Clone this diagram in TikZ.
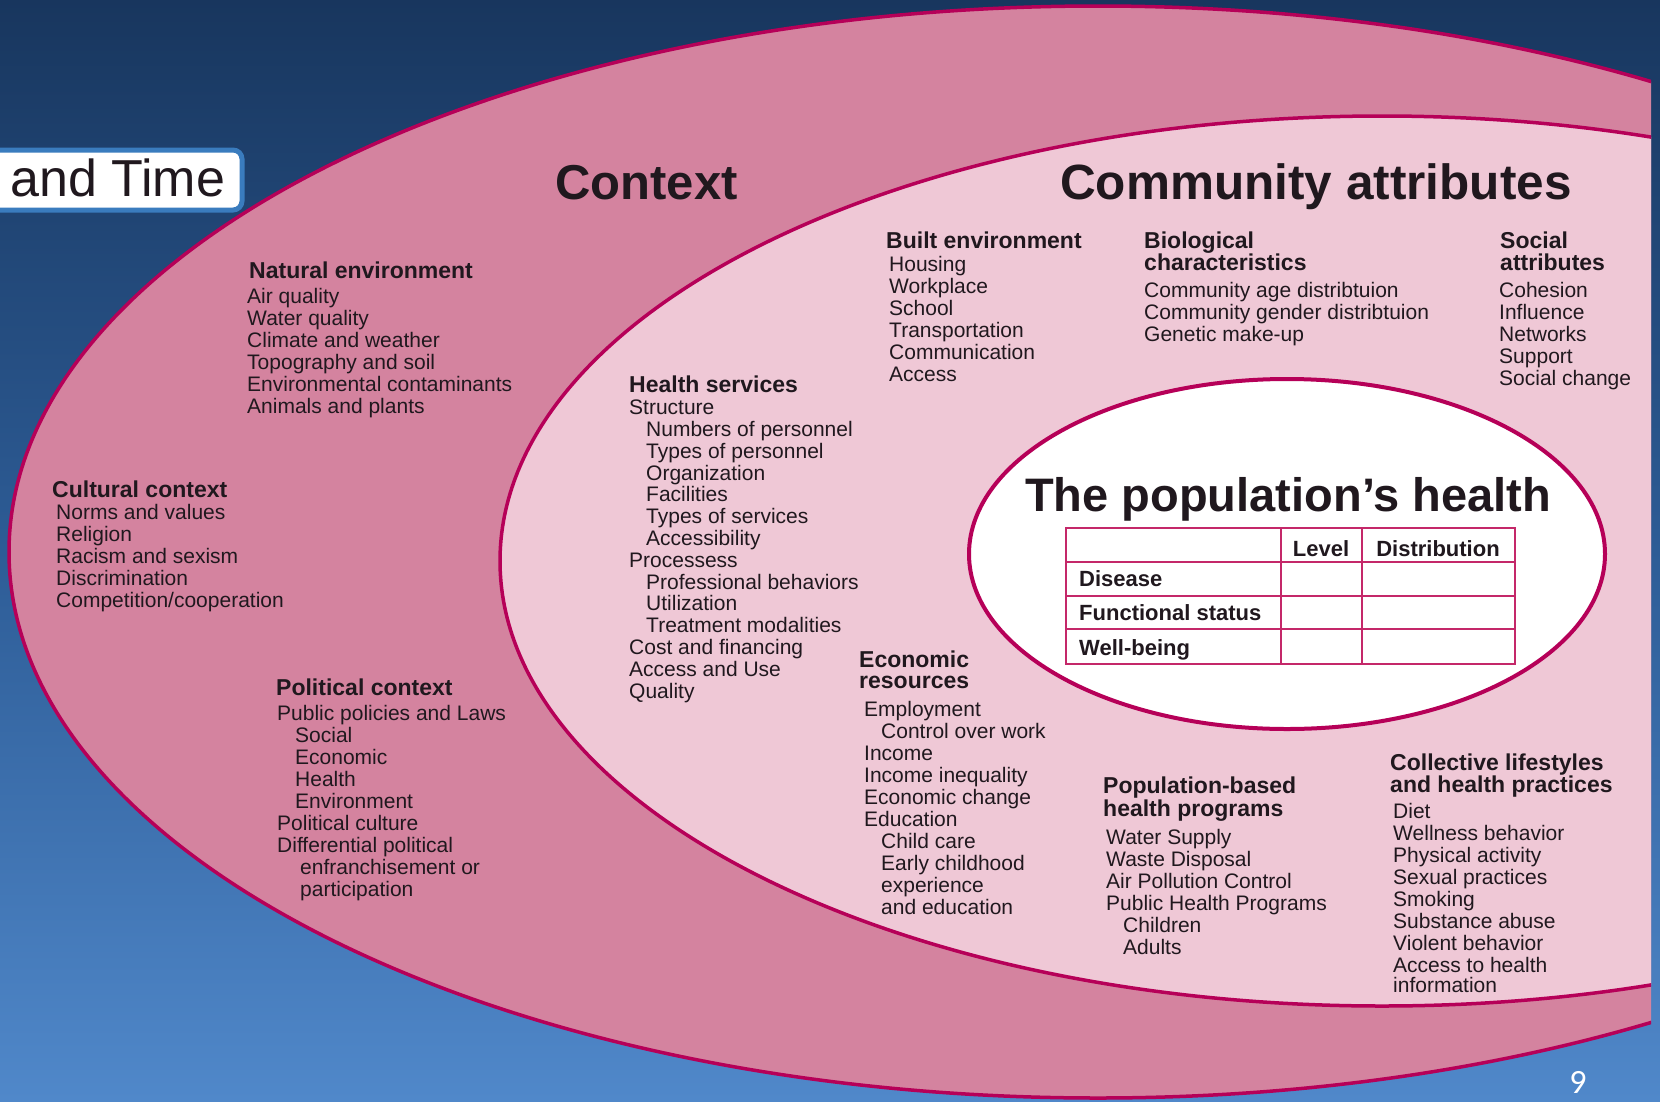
\documentclass[tikz,border=0pt]{standalone}
\usepackage{fontspec}
\setmainfont{Liberation Sans}
\newfontfamily\pagefont{Carlito}
\definecolor{bgtop}{RGB}{24,54,94}
\definecolor{bgmid}{RGB}{45,92,150}
\definecolor{bgbot}{RGB}{80,136,202}
\definecolor{ringpink}{RGB}{212,131,159}
\definecolor{innerpink}{RGB}{239,200,214}
\definecolor{rimred}{RGB}{182,0,88}
\definecolor{tabline}{RGB}{196,40,105}
\definecolor{txt}{RGB}{32,24,30}
\definecolor{boxblue}{RGB}{58,124,190}
\begin{document}
\begin{tikzpicture}[x=1pt,y=-1pt,
  body/.style={anchor=base west, inner sep=0pt, align=left, text=txt, font=\fontsize{21}{22}\selectfont},
  head/.style={anchor=base west, inner sep=0pt, align=left, text=txt, font=\fontsize{23}{22}\bfseries\selectfont},
  bigtitle/.style={anchor=base west, inner sep=0pt, text=txt, font=\fontsize{47}{50}\bfseries\selectfont},
  cell/.style={anchor=base west, inner sep=0pt, text=txt, font=\fontsize{22}{22}\bfseries\selectfont},
  rim/.style={draw=rimred, line width=3.5pt}]
\useasboundingbox (0,0) rectangle (1660,1101);
% background
\shade[top color=bgtop, bottom color=bgbot, middle color=bgmid] (0,0) rectangle (1660,1101);
\begin{scope}
  \clip (0,0) rectangle (1651,1101);
  \path[fill=ringpink, rim] (1098,552) ellipse [x radius=1089pt, y radius=546pt];
  \path[fill=innerpink, rim] (1382,561) ellipse [x radius=882pt, y radius=445pt];
\end{scope}
% population's health ellipse
\path[fill=white, draw=rimred, line width=4pt] (1287,554) ellipse [x radius=318pt, y radius=175pt];
% table
\draw[tabline, line width=1.8pt] (1066,528) rectangle (1515,664);
\draw[tabline, line width=1.8pt] (1066,562) -- (1515,562) (1066,596) -- (1515,596) (1066,629) -- (1515,629);
\draw[tabline, line width=1.8pt] (1281,528) -- (1281,664) (1362,528) -- (1362,664);
\node[cell, anchor=base] (lev) at (1321,556) {Level};
\node[cell, anchor=base] (dist) at (1438,556) {Distribution};
\node[cell] (dis) at (1079,586) {Disease};
\node[cell] (fun) at (1079,620) {Functional status};
\node[cell] (wel) at (1079,655) {Well-being};
% big titles (multi-line nodes: anchor is the baseline of the LAST line)
\node[bigtitle, font=\fontsize{49}{50}\bfseries\selectfont] (context) at (555,199) {Context};
\node[bigtitle, font=\fontsize{49.5}{50}\bfseries\selectfont] (community) at (1060,199) {Community attributes};
\node[bigtitle] (pophealth) at (1025,511) {The population’s health};
% Context blocks
\node[head] (natT) at (249,278) {Natural environment};
\node[body] (natB) at (247,413) {Air quality\\Water quality\\Climate and weather\\Topography and soil\\Environmental contaminants\\Animals and plants};
\node[head] (culT) at (52,497) {Cultural context};
\node[body] (culB) at (56,607) {Norms and values\\Religion\\Racism and sexism\\Discrimination\\Competition/cooperation};
\node[head] (polT) at (276,695) {Political context};
\node[body] (polB) at (277,896) {Public policies and Laws\\\hspace*{18pt}Social\\\hspace*{18pt}Economic\\\hspace*{18pt}Health\\\hspace*{18pt}Environment\\Political culture\\Differential political\\\hspace*{23pt}enfranchisement or\\\hspace*{23pt}participation};
% Community blocks
\node[head] (hsT) at (629,392) {Health services};
\node[body, font=\fontsize{21}{21.8}\selectfont] (hsB) at (629,698) {Structure\\\hspace*{17pt}Numbers of personnel\\\hspace*{17pt}Types of personnel\\\hspace*{17pt}Organization\\\hspace*{17pt}Facilities\\\hspace*{17pt}Types of services\\\hspace*{17pt}Accessibility\\Processess\\\hspace*{17pt}Professional behaviors\\\hspace*{17pt}Utilization\\\hspace*{17pt}Treatment modalities\\Cost and financing\\Access and Use\\Quality};
\node[head] (builtT) at (886,248) {Built environment};
\node[body] (builtB) at (889,381) {Housing\\Workplace\\School\\Transportation\\Communication\\Access};
\node[head] (bioT) at (1144,270) {Biological\\characteristics};
\node[body] (bioB) at (1144,341) {Community age distribtuion\\Community gender distribtuion\\Genetic make-up};
\node[head] (socT) at (1500,270) {Social\\attributes};
\node[body] (socB) at (1499,385) {Cohesion\\Influence\\Networks\\Support\\Social change};
\node[head, font=\fontsize{23}{20.5}\bfseries\selectfont] (ecoT) at (859,688) {Economic\\resources};
\node[body] (ecoB) at (864,914) {Employment\\\hspace*{17pt}Control over work\\Income\\Income inequality\\Economic change\\Education\\\hspace*{17pt}Child care\\\hspace*{17pt}Early childhood\\\hspace*{17pt}experience\\\hspace*{17pt}and education};
\node[head, font=\fontsize{23}{21}\bfseries\selectfont] (popT) at (1103,816) {Population-based\\health programs};
\node[body] (popB) at (1106,954) {Water Supply\\Waste Disposal\\Air Pollution Control\\Public Health Programs\\\hspace*{17pt}Children\\\hspace*{17pt}Adults};
\node[head] (colT) at (1390,792) {Collective lifestyles\\and health practices};
\node[body] (colB) at (1393,992) {Diet\\Wellness behavior\\Physical activity\\Sexual practices\\Smoking\\Substance abuse\\Violent behavior\\Access to health\\[-2.5pt]information};
% and Time box
\draw[fill=white, draw=boxblue, line width=5pt, rounded corners=9pt] (-20,150) rectangle (242,210);
\node[anchor=base west, inner sep=0pt, text=txt, font=\fontsize{52}{54}\selectfont] (andtime) at (10,196) {and Time};
% page number
\node[anchor=base, inner sep=0pt, text=white, font=\pagefont\fontsize{34}{36}\selectfont] (pagenum) at (1578,1093) {9};
\end{tikzpicture}
\end{document}
